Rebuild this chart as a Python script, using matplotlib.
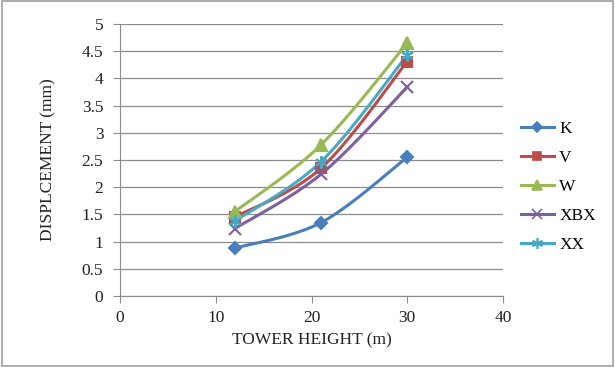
import numpy as np
import matplotlib
matplotlib.use("Agg")
import matplotlib.pyplot as plt
from matplotlib.patches import Rectangle

plt.rcParams['font.family'] = ['Liberation Serif', 'DejaVu Serif']

heights = [12, 21, 30]
series_names = ['K', 'V', 'W', 'XBX', 'XX']
k_vals = [0.88, 1.35, 2.55]
v_vals = [1.45, 2.35, 4.31]
w_vals = [1.55, 2.78, 4.65]
xbx_vals = [1.24, 2.24, 3.84]
xx_vals = [1.38, 2.47, 4.43]

colors = ['#4A7EBB', '#BE4B48', '#98B954', '#7D60A0', '#46AAC5']
markers = ['D', 's', '^', 'x', (6, 2, 0)]
msizes = [6, 7, 8, 8, 9]


def smooth(xs, ys, n=30):
    # Excel-style smoothed line: cubic Bezier with Catmull-Rom control points
    pts = np.column_stack([xs, ys]).astype(float)
    out = []
    for i in range(len(pts) - 1):
        p0 = pts[max(i - 1, 0)]
        p1 = pts[i]
        p2 = pts[i + 1]
        p3 = pts[min(i + 2, len(pts) - 1)]
        c1 = p1 + (p2 - p0) / 6
        c2 = p2 - (p3 - p1) / 6
        t = np.linspace(0, 1, n)[:, None]
        seg = ((1 - t) ** 3) * p1 + 3 * ((1 - t) ** 2) * t * c1 + 3 * (1 - t) * t ** 2 * c2 + t ** 3 * p2
        out.append(seg if i == 0 else seg[1:])
    out = np.vstack(out)
    return out[:, 0], out[:, 1]


fig = plt.figure(figsize=(6.15, 3.67), dpi=100)
ax = fig.add_axes([120 / 615, 1 - 296 / 367, 383 / 615, 272 / 367])
fig.patches.append(Rectangle((0.004, 0.004), 0.992, 0.992, transform=fig.transFigure,
                             fill=False, edgecolor='#A0A0A0', linewidth=1.2))

all_vals = [k_vals, v_vals, w_vals, xbx_vals, xx_vals]
for name, vals, c, m, ms in zip(series_names, all_vals, colors, markers, msizes):
    sx, sy = smooth(heights, vals)
    ax.plot(sx, sy, color=c, linewidth=2.2, zorder=3)
    ax.plot(heights, vals, linestyle='none', marker=m, markersize=ms, color=c,
            markeredgecolor=c, markeredgewidth=1.5, zorder=4)
    ax.plot([], [], color=c, linewidth=2.2, marker=m, markersize=ms - 1,
            markeredgewidth=1.2, label=name)

ax.set_xlim(0, 40)
ax.set_ylim(0, 5)
ax.set_xticks([0, 10, 20, 30, 40])
ax.set_yticks(np.arange(0, 5.01, 0.5))
ax.set_yticklabels(['0', '0.5', '1', '1.5', '2', '2.5', '3', '3.5', '4', '4.5', '5'])
ax.grid(True, axis='y', color='#8C8C8C', linewidth=0.9)
ax.set_axisbelow(True)
for s in ['top', 'right']:
    ax.spines[s].set_visible(False)
for s in ['left', 'bottom']:
    ax.spines[s].set_color('#8C8C8C')
ax.tick_params(colors='#8C8C8C', labelcolor='#222222', labelsize=12.5, length=5, direction='out')
ax.tick_params(axis='y', pad=7)
ax.tick_params(axis='x', pad=5)

ax.set_xlabel('TOWER HEIGHT (m)', fontsize=12.5, labelpad=5, color='#222222')
ax.set_ylabel('DISPLCEMENT (mm)', fontsize=12.5, labelpad=18, color='#222222')

ax.legend(loc='upper left', bbox_to_anchor=(521 / 615, 1 - 121 / 367), bbox_transform=fig.transFigure,
          frameon=False, fontsize=12.5, handlelength=1.9, labelspacing=0.74,
          handletextpad=0.3, borderpad=0, borderaxespad=0)

fig.savefig('out.png', dpi=100)
